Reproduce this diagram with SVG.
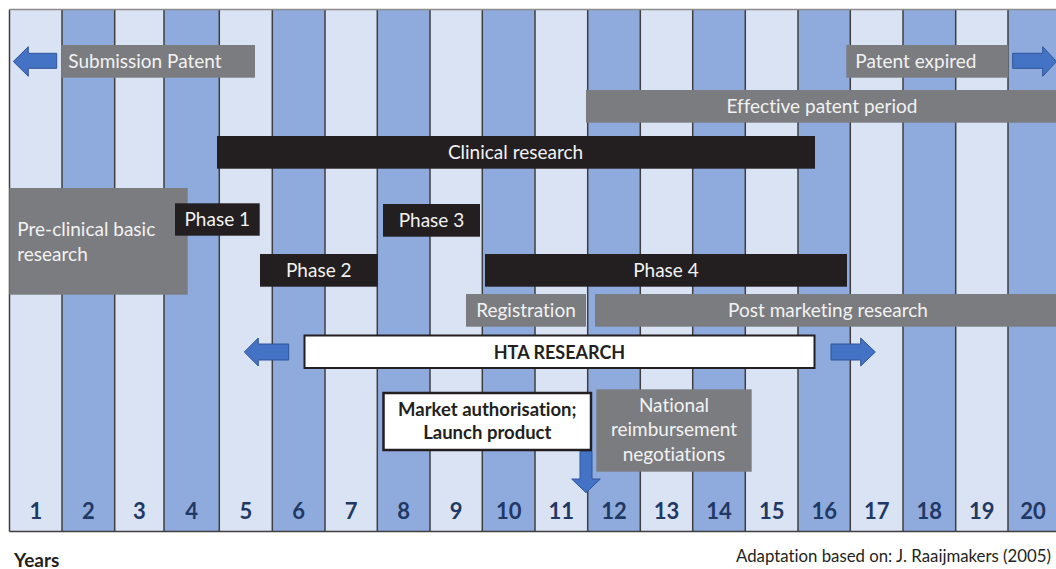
<svg xmlns="http://www.w3.org/2000/svg" width="1056" height="569" viewBox="0 0 1056 569">
  <style>
    text { font-variant-ligatures: none; }
    .lt { fill: #DAE3F3; }
    .dk { fill: #8FAADC; }
    .sep { stroke: #3F3F3F; stroke-width: 1.5; }
    .gray { fill: #7B7C80; }
    .black { fill: #231F20; }
    .txt { font-family: Lato, "Liberation Sans", sans-serif; font-size: 19px; fill: #F2F2F2; }
    .yr { font-family: Lato, "Liberation Sans", sans-serif; font-size: 22px; font-weight: bold; fill: #1F3864; text-anchor: middle; }
    .bold { font-family: Lato, "Liberation Sans", sans-serif; font-weight: bold; fill: #231F20; }
    .arrow { fill: #4472C4; stroke: #2F5597; stroke-width: 1; }
    .mid { text-anchor: middle; }
  </style>

  <rect x="0" y="0" width="1056" height="569" fill="#FFFFFF"/>

  <!-- year columns -->
  <g id="columns">
    <rect class="lt" x="9.5" y="9.5" width="52.5" height="522"/>
    <rect class="dk" x="62" y="9.5" width="52.7" height="522"/>
    <rect class="lt" x="114.7" y="9.5" width="49.3" height="522"/>
    <rect class="dk" x="164" y="9.5" width="55.3" height="522"/>
    <rect class="lt" x="219.3" y="9.5" width="53" height="522"/>
    <rect class="dk" x="272.3" y="9.5" width="52.7" height="522"/>
    <rect class="lt" x="325" y="9.5" width="52.3" height="522"/>
    <rect class="dk" x="377.3" y="9.5" width="52.7" height="522"/>
    <rect class="lt" x="430" y="9.5" width="52.3" height="522"/>
    <rect class="dk" x="482.3" y="9.5" width="52.7" height="522"/>
    <rect class="lt" x="535" y="9.5" width="52.7" height="522"/>
    <rect class="dk" x="587.7" y="9.5" width="52.6" height="522"/>
    <rect class="lt" x="640.3" y="9.5" width="52.4" height="522"/>
    <rect class="dk" x="692.7" y="9.5" width="52.6" height="522"/>
    <rect class="lt" x="745.3" y="9.5" width="52.7" height="522"/>
    <rect class="dk" x="798" y="9.5" width="52.3" height="522"/>
    <rect class="lt" x="850.3" y="9.5" width="52.7" height="522"/>
    <rect class="dk" x="903" y="9.5" width="52.7" height="522"/>
    <rect class="lt" x="955.7" y="9.5" width="52.3" height="522"/>
    <rect class="dk" x="1008" y="9.5" width="48" height="522"/>
    <g class="sep">
      <line x1="9.5" y1="9.5" x2="9.5" y2="531.5"/>
      <line x1="62" y1="9.5" x2="62" y2="531.5"/>
      <line x1="114.7" y1="9.5" x2="114.7" y2="531.5"/>
      <line x1="164" y1="9.5" x2="164" y2="531.5"/>
      <line x1="219.3" y1="9.5" x2="219.3" y2="531.5"/>
      <line x1="272.3" y1="9.5" x2="272.3" y2="531.5"/>
      <line x1="325" y1="9.5" x2="325" y2="531.5"/>
      <line x1="377.3" y1="9.5" x2="377.3" y2="531.5"/>
      <line x1="430" y1="9.5" x2="430" y2="531.5"/>
      <line x1="482.3" y1="9.5" x2="482.3" y2="531.5"/>
      <line x1="535" y1="9.5" x2="535" y2="531.5"/>
      <line x1="587.7" y1="9.5" x2="587.7" y2="531.5"/>
      <line x1="640.3" y1="9.5" x2="640.3" y2="531.5"/>
      <line x1="692.7" y1="9.5" x2="692.7" y2="531.5"/>
      <line x1="745.3" y1="9.5" x2="745.3" y2="531.5"/>
      <line x1="798" y1="9.5" x2="798" y2="531.5"/>
      <line x1="850.3" y1="9.5" x2="850.3" y2="531.5"/>
      <line x1="903" y1="9.5" x2="903" y2="531.5"/>
      <line x1="955.7" y1="9.5" x2="955.7" y2="531.5"/>
      <line x1="1008" y1="9.5" x2="1008" y2="531.5"/>
      <line x1="9.5" y1="531.5" x2="1056" y2="531.5"/>
    </g>
    <line x1="9.5" y1="9.5" x2="1056" y2="9.5" stroke="#8C8C8C" stroke-width="1.5"/>
    <text class="yr" x="35.8" y="519">1</text>
    <text class="yr" x="88.4" y="519">2</text>
    <text class="yr" x="139.4" y="519">3</text>
    <text class="yr" x="191.7" y="519">4</text>
    <text class="yr" x="245.8" y="519">5</text>
    <text class="yr" x="298.7" y="519">6</text>
    <text class="yr" x="351.2" y="519">7</text>
    <text class="yr" x="403.7" y="519">8</text>
    <text class="yr" x="456.2" y="519">9</text>
    <text class="yr" x="508.7" y="519">10</text>
    <text class="yr" x="561.3" y="519">11</text>
    <text class="yr" x="614" y="519">12</text>
    <text class="yr" x="666.5" y="519">13</text>
    <text class="yr" x="719" y="519">14</text>
    <text class="yr" x="771.7" y="519">15</text>
    <text class="yr" x="824.2" y="519">16</text>
    <text class="yr" x="876.7" y="519">17</text>
    <text class="yr" x="929.3" y="519">18</text>
    <text class="yr" x="981.8" y="519">19</text>
    <text class="yr" x="1033" y="519">20</text>
  </g>

  <g id="submission-patent">
    <rect class="gray" x="61.3" y="45" width="193.7" height="32.7"/>
    <text class="txt" x="68.3" y="68">Submission Patent</text>
  </g>

  <g id="patent-expired">
    <rect class="gray" x="846.3" y="45" width="162" height="32.7"/>
    <text class="txt" x="855.3" y="68">Patent expired</text>
  </g>

  <g id="effective-patent-period">
    <rect class="gray" x="586" y="90" width="470" height="32.7"/>
    <text class="txt mid" x="822" y="113">Effective patent period</text>
  </g>

  <g id="clinical-research">
    <rect class="black" x="217" y="136" width="598" height="32.7"/>
    <text class="txt mid" x="515.5" y="159">Clinical research</text>
  </g>

  <g id="pre-clinical">
    <rect class="gray" x="9.3" y="188" width="178.4" height="106.7"/>
    <text class="txt" x="17.3" y="235.5">Pre-clinical basic</text>
    <text class="txt" x="17.3" y="260.5">research</text>
  </g>

  <g id="phase-1">
    <rect class="black" x="175" y="203.3" width="84.7" height="32.4"/>
    <text class="txt mid" x="217.3" y="226.3">Phase 1</text>
  </g>

  <g id="phase-2">
    <rect class="black" x="260" y="254" width="117.7" height="32.7"/>
    <text class="txt mid" x="318.8" y="277">Phase 2</text>
  </g>

  <g id="phase-3">
    <rect class="black" x="383" y="204" width="97" height="32.7"/>
    <text class="txt mid" x="431.5" y="227">Phase 3</text>
  </g>

  <g id="phase-4">
    <rect class="black" x="485" y="254" width="362" height="32.7"/>
    <text class="txt mid" x="666" y="277">Phase 4</text>
  </g>

  <g id="registration">
    <rect class="gray" x="466" y="294" width="120" height="32.7"/>
    <text class="txt mid" x="526" y="317">Registration</text>
  </g>

  <g id="post-marketing">
    <rect class="gray" x="595" y="294" width="461" height="32.7"/>
    <text class="txt mid" x="828" y="317">Post marketing research</text>
  </g>

  <g id="hta-research">
    <rect x="304.5" y="335.5" width="510" height="32.5" fill="#FFFFFF" stroke="#231F20" stroke-width="2"/>
    <text class="bold mid" x="559.5" y="358.5" font-size="18">HTA RESEARCH</text>
  </g>

  <g id="market-authorisation">
    <rect x="383.5" y="393" width="207.5" height="57" fill="#FFFFFF" stroke="#231F20" stroke-width="2.5"/>
    <text class="bold mid" x="487.3" y="415.8" font-size="18.5">Market authorisation;</text>
    <text class="bold mid" x="487.3" y="439" font-size="18.5">Launch product</text>
  </g>

  <g id="reimbursement">
    <rect class="gray" x="596.3" y="389.3" width="155.4" height="82.4"/>
    <text class="txt mid" x="674" y="412">National</text>
    <text class="txt mid" x="674" y="436.3">reimbursement</text>
    <text class="txt mid" x="674" y="460.6">negotiations</text>
  </g>

  <!-- block arrows -->
  <g id="connectors">
    <path class="arrow" d="M13.3,61.5 L28.3,46.7 L28.3,53.3 L56.7,53.3 L56.7,68.3 L28.3,68.3 L28.3,76.3 Z"/>
    <path class="arrow" d="M1012.7,53.3 L1042.7,53.3 L1042.7,46.7 L1056.5,61.5 L1042.7,76.3 L1042.7,68.3 L1012.7,68.3 Z"/>
    <path class="arrow" d="M244.3,352 L258.3,338 L258.3,344 L288.7,344 L288.7,360 L258.3,360 L258.3,366 Z"/>
    <path class="arrow" d="M831,344 L860.7,344 L860.7,338 L875.3,352 L860.7,366 L860.7,360 L831,360 Z"/>
    <path class="arrow" d="M580,451.5 L592,451.5 L592,479 L600.3,479 L586,492.7 L571.7,479 L580,479 Z"/>
  </g>

  <g id="labels">
    <text class="bold" x="14" y="566.5" font-size="19">Years</text>
    <text x="1051" y="561.7" font-family="Lato, 'Liberation Sans', sans-serif" font-size="16.8" fill="#231F20" text-anchor="end">Adaptation based on: J. Raaijmakers (2005)</text>
  </g>
</svg>
